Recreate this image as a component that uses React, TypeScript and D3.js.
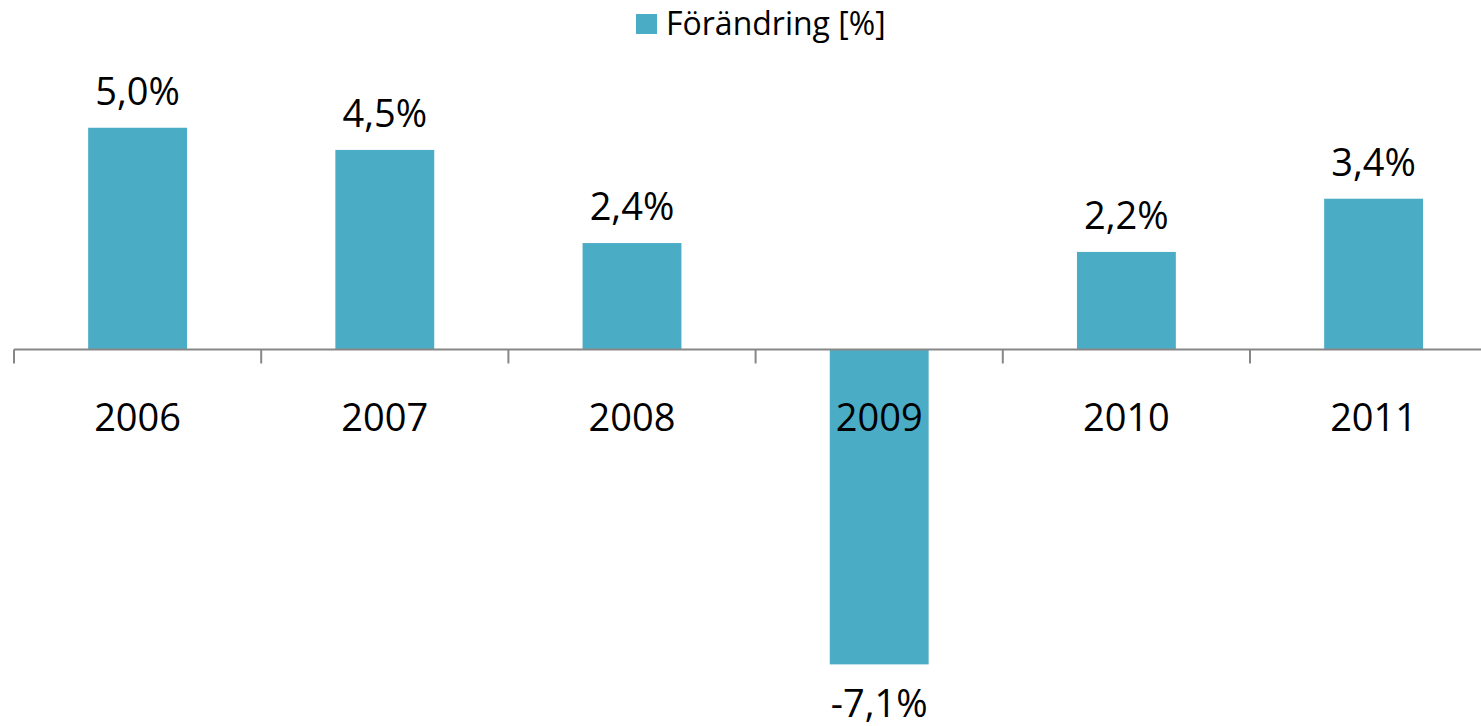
import * as React from "react";
import * as d3 from "d3";

const years = ["2006", "2007", "2008", "2009", "2010", "2011"];
const changes = [5.0, 4.5, 2.4, -7.1, 2.2, 3.4];
const seriesName = "Förändring [%]";

const W = 1481;
const H = 726;
const barColor = "#4BACC6";
const axisColor = "#878787";
const font = "'Open Sans', 'Liberation Sans', sans-serif";

// Swedish style: comma decimal, plain hyphen for negatives
const fmt = (v: number) =>
  d3.format(".1f")(v).replace(".", ",").replace("\u2212", "-") + "%";

export default function App() {
  const x = d3
    .scaleBand<string>()
    .domain(years)
    .range([14, 14 + 247.2 * years.length])
    .paddingInner(0.6)
    .paddingOuter(0.3);

  const y = d3.scaleLinear().domain([-8, 6]).range([704.3, 83.4]);
  const zero = y(0);
  const step = x.step();
  const ticks = d3.range(years.length + 1).map((i) => 14 + i * step);

  return (
    <svg
      width={W}
      height={H}
      style={{ position: "absolute", left: 0, top: 0, background: "#fff" }}
      fontFamily={font}
    >
      {/* legend */}
      <g>
        <rect x={636} y={14} width={21} height={20} fill={barColor} />
        <text x={666} y={35} fontSize={32} fill="#000">
          {seriesName}
        </text>
      </g>

      {/* bars */}
      {changes.map((v, i) => (
        <rect
          key={years[i]}
          x={x(years[i])}
          y={Math.min(y(v), zero)}
          width={x.bandwidth()}
          height={Math.abs(y(v) - zero)}
          fill={barColor}
        />
      ))}

      {/* axis */}
      <line x1={14} x2={W} y1={zero} y2={zero} stroke={axisColor} strokeWidth={2} />
      {ticks.map((t, i) => (
        <line key={i} x1={t} x2={t} y1={zero} y2={zero + 14} stroke={axisColor} strokeWidth={2} />
      ))}
      {years.map((yr) => (
        <text
          key={yr}
          x={(x(yr) as number) + x.bandwidth() / 2}
          y={431}
          textAnchor="middle"
          fontSize={38}
          fill="#000"
        >
          {yr}
        </text>
      ))}

      {/* data labels */}
      {changes.map((v, i) => (
        <text
          key={"l" + years[i]}
          x={(x(years[i]) as number) + x.bandwidth() / 2}
          y={v >= 0 ? y(v) - 23 : y(v) + 53}
          textAnchor="middle"
          fontSize={38}
          fill="#000"
        >
          {fmt(v)}
        </text>
      ))}
    </svg>
  );
}
